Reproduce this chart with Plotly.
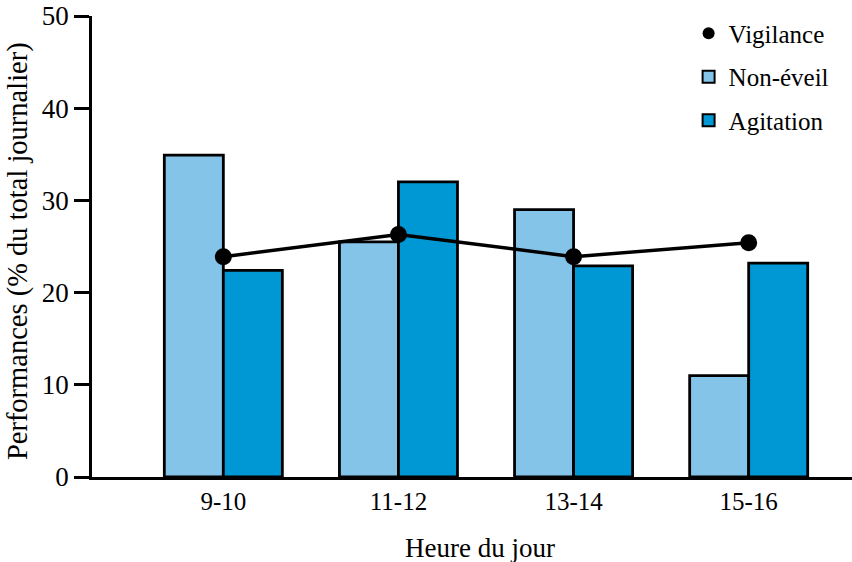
import plotly.graph_objects as go

categories = ["9-10", "11-12", "13-14", "15-16"]
non_eveil = [34.9, 25.5, 29.0, 11.0]
agitation = [22.4, 32.0, 22.9, 23.2]
vigilance = [23.9, 26.3, 23.9, 25.4]

FONT = "Liberation Serif"
fig = go.Figure()
# legend-only entry for Vigilance (marker only, like the reference)
fig.add_trace(go.Scatter(
    x=[None], y=[None], name="Vigilance", mode="markers",
    marker=dict(color="black", size=18), legendgroup="a",
))
fig.add_trace(go.Scatter(
    x=categories, y=vigilance, name="Vigilance", mode="lines+markers",
    line=dict(color="black", width=3.5),
    marker=dict(color="black", size=17), showlegend=False,
))
fig.add_trace(go.Bar(
    x=categories, y=non_eveil, name="Non-éveil", legendgroup="b",
    marker=dict(color="#84C4E9", line=dict(color="black", width=2.8)),
))
fig.add_trace(go.Bar(
    x=categories, y=agitation, name="Agitation", legendgroup="c",
    marker=dict(color="#0098D4", line=dict(color="black", width=2.8)),
))

fig.update_layout(
    width=852, height=562,
    margin=dict(l=92, r=0, t=16, b=85),
    plot_bgcolor="white", paper_bgcolor="white",
    font=dict(family=FONT, size=25, color="black"),
    barmode="group", bargap=0.326, bargroupgap=0,
    showlegend=True,
    legend=dict(x=0.785, y=1.012, xanchor="left", yanchor="top",
                font=dict(family=FONT, size=25), bgcolor="rgba(0,0,0,0)",
                traceorder="grouped", tracegroupgap=8, itemsizing="constant"),
    xaxis=dict(
        type="category", range=[-0.75, 3.59], automargin=False,
        showline=True, linecolor="black", linewidth=2.5,
        ticks="", showgrid=False, zeroline=False,
        tickfont=dict(size=25),
    ),
    yaxis=dict(
        range=[0, 50], dtick=10, automargin=False,
        showline=True, linecolor="black", linewidth=2.5,
        ticks="outside", ticklen=15, tickwidth=2.5, tickcolor="black",
        showgrid=False, zeroline=False,
        tickfont=dict(size=27),
    ),
    annotations=[
        dict(text="Heure du jour", xref="paper", yref="paper",
             x=0.5105, y=-0.154, xanchor="center", yanchor="middle",
             showarrow=False, font=dict(size=27)),
        dict(text="Performances (% du total journalier)", xref="paper", yref="paper",
             x=-0.097, y=0.4906, xanchor="center", yanchor="middle", textangle=-90,
             showarrow=False, font=dict(size=28.5)),
    ],
)

fig.write_html("out.html", config={"displayModeBar": False},
               post_script="document.body.style.margin='0';")
